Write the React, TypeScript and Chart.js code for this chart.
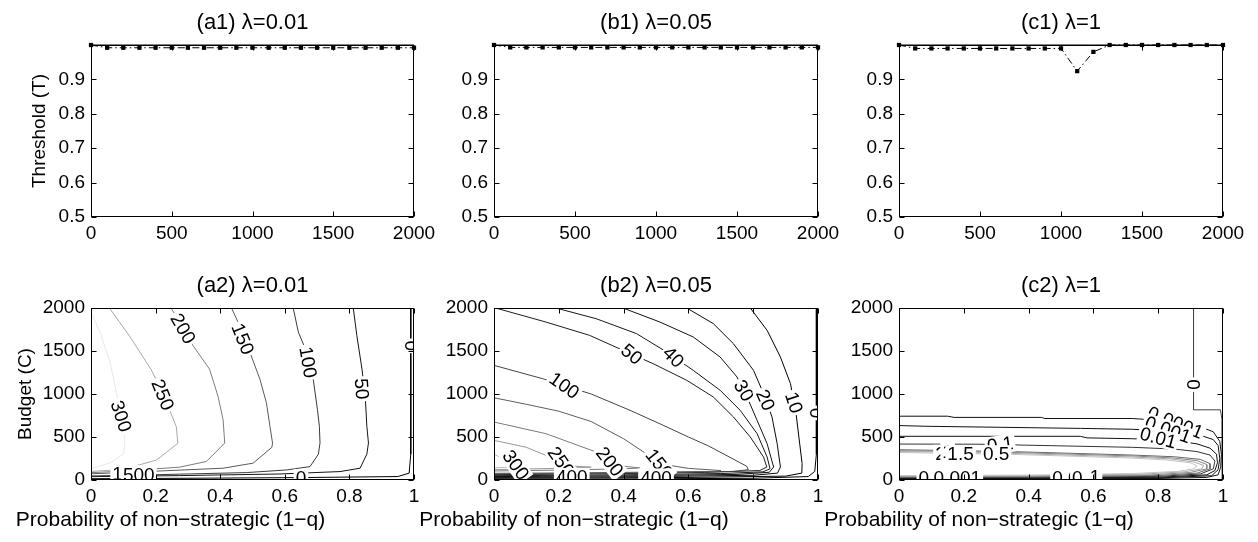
import React, { useEffect, useRef } from 'react';
import { Chart, registerables } from 'chart.js';

Chart.register(...registerables);

const FONT = '"Liberation Sans", Arial, Helvetica, sans-serif';

// ---------------- top row: threshold vs budget ----------------
const budgetX = [0, 100, 200, 300, 400, 500, 600, 700, 800, 900, 1000, 1100, 1200, 1300, 1400, 1500, 1600, 1700, 1800, 1900, 2000];
const thresholdMax = [1, 1, 1, 1, 1, 1, 1, 1, 1, 1, 1, 1, 1, 1, 1, 1, 1, 1, 1, 1, 1];
const thresholdA1 = [1, 0.992, 0.992, 0.992, 0.992, 0.992, 0.992, 0.992, 0.992, 0.992, 0.992, 0.992, 0.992, 0.992, 0.992, 0.992, 0.992, 0.992, 0.992, 0.992, 0.992];
const thresholdB1 = [1, 0.993, 0.993, 0.993, 0.993, 0.993, 0.993, 0.993, 0.993, 0.993, 0.993, 0.993, 0.993, 0.993, 0.993, 0.993, 0.993, 0.993, 0.993, 0.993, 0.993];
const thresholdC1 = [1, 0.99, 0.99, 0.99, 0.99, 0.99, 0.99, 0.99, 0.99, 0.99, 0.99, 0.924, 0.98, 1, 1, 1, 1, 1, 1, 1, 1];

// ---------------- bottom row: contour lines (x = 1-q, y = budget) ----------------
type Pt = [number, number];
type Lbl = [string, number, number, number]; // text, x, y, rotation (deg)

// (a2) lambda = 0.01
const a2Level0: Pt[] = [[0.99, 2000], [0.99, 1000], [0.99, 300], [0.985, 80], [0.95, 40], [0.65, 28], [0.3, 20], [0, 15]];
const a2Level50: Pt[] = [[0.812, 2000], [0.823, 1680], [0.839, 1289], [0.849, 976], [0.854, 625], [0.859, 430], [0.854, 300], [0.833, 137], [0.771, 98], [0.585, 70], [0.274, 51], [0, 39]];
const a2Level100: Pt[] = [[0.626, 2000], [0.642, 1719], [0.668, 1485], [0.688, 1172], [0.701, 820], [0.707, 625], [0.709, 430], [0.704, 300], [0.678, 156], [0.606, 117], [0.481, 86], [0.171, 59], [0, 47]];
const a2Level150: Pt[] = [[0.435, 2000], [0.46, 1797], [0.492, 1485], [0.523, 1172], [0.543, 899], [0.554, 625], [0.562, 430], [0.56, 380], [0.502, 196], [0.409, 137], [0.171, 98], [0, 72]];
const a2Level200: Pt[] = [[0.248, 2000], [0.274, 1836], [0.316, 1562], [0.367, 1289], [0.393, 976], [0.409, 703], [0.414, 430], [0.357, 215], [0.274, 149], [0.119, 109], [0, 85]];
const a2Level250: Pt[] = [[0.057, 2000], [0.119, 1676], [0.186, 1285], [0.217, 1051], [0.243, 817], [0.264, 621], [0.269, 426], [0.202, 231], [0.098, 122], [0, 100]];
const a2Level300: Pt[] = [[0, 1950], [0.03, 1700], [0.06, 1350], [0.08, 1000], [0.095, 700], [0.105, 450], [0.1, 300], [0.06, 200], [0, 130]];
const a2Labels: Lbl[] = [
  ['300', 0.093, 742, 72], ['250', 0.222, 990, 68], ['200', 0.285, 1760, 60], ['150', 0.47, 1640, 68],
  ['100', 0.672, 1370, 80], ['50', 0.838, 1060, 86], ['0', 0.99, 1560, 90],
  ['150', 0.115, 70, 0], ['500', 0.148, 66, 0], ['0', 0.65, 24, 0],
];

// (b2) lambda = 0.05
const b2Level0: Pt[] = [[0.995, 2000], [0.995, 300], [0.99, 100], [0.97, 40], [0.8, 20], [0.4, 12], [0, 8]];
const b2Level10: Pt[] = [[0.791, 2000], [0.843, 1740], [0.884, 1430], [0.915, 1120], [0.931, 810], [0.941, 500], [0.951, 190], [0.95, 80], [0.9, 45], [0.6, 30], [0.2, 22], [0, 20]];
const b2Level20: Pt[] = [[0.595, 2000], [0.677, 1818], [0.739, 1585], [0.801, 1275], [0.832, 1004], [0.858, 733], [0.874, 422], [0.884, 151], [0.875, 80], [0.8, 55], [0.5, 40], [0.2, 32], [0, 30]];
const b2Level30: Pt[] = [[0.398, 2000], [0.512, 1837], [0.615, 1663], [0.698, 1430], [0.75, 1198], [0.781, 965], [0.812, 694], [0.843, 422], [0.863, 151], [0.85, 90], [0.75, 65], [0.45, 50], [0.15, 42], [0, 40]];
const b2Level40: Pt[] = [[0.191, 2000], [0.315, 1876], [0.44, 1702], [0.533, 1488], [0.615, 1275], [0.698, 1043], [0.76, 810], [0.812, 539], [0.843, 267], [0.852, 130], [0.83, 95], [0.7, 75], [0.4, 60], [0.1, 52], [0, 50]];
const b2Level50: Pt[] = [[0.005, 2000], [0.16, 1837], [0.295, 1682], [0.398, 1508], [0.491, 1353], [0.595, 1159], [0.677, 965], [0.739, 733], [0.791, 500], [0.832, 267], [0.842, 150], [0.82, 110], [0.65, 88], [0.35, 72], [0, 62]];
const b2Level100: Pt[] = [[0, 1333], [0.15, 1178], [0.3, 1000], [0.42, 810], [0.52, 640], [0.6, 500], [0.66, 400], [0.71, 300], [0.75, 220], [0.78, 160], [0.785, 120], [0.74, 100], [0.5, 85], [0.2, 75], [0, 72]];
const b2Level150: Pt[] = [[0, 956], [0.1, 880], [0.2, 800], [0.3, 680], [0.4, 480], [0.46, 330], [0.51, 190], [0.6, 135], [0.7, 110], [0.68, 100], [0.5, 92], [0.2, 82], [0, 78]];
const b2Level200: Pt[] = [[0, 674], [0.16, 539], [0.315, 326], [0.357, 214], [0.4, 160], [0.45, 140], [0.4, 130], [0.2, 115], [0, 105]];
const b2Level250: Pt[] = [[0, 461], [0.1, 380], [0.207, 214], [0.25, 160], [0.3, 150], [0.25, 140], [0, 120]];
const b2Level300: Pt[] = [[0, 300], [0.067, 176], [0.1, 160], [0.05, 150], [0, 140]];
const b2Labels: Lbl[] = [
  ['50', 0.425, 1463, 40], ['40', 0.554, 1430, 45], ['30', 0.771, 1040, 60], ['20', 0.838, 930, 66],
  ['10', 0.926, 900, 72], ['0', 0.995, 780, 90], ['100', 0.217, 1098, 35], ['150', 0.51, 190, 52],
  ['200', 0.357, 214, 52], ['250', 0.207, 214, 55], ['300', 0.067, 176, 55], ['400', 0.24, 35, 0], ['400', 0.5, 30, 0],
];

// (c2) lambda = 1
const c2Level0: Pt[] = [[0.909, 2000], [0.909, 816], [0.992, 816], [0.997, 700], [0.998, 300], [0.998, 0]];
const c2Level00001: Pt[] = [[0, 742], [0.15, 742], [0.17, 728], [0.44, 728], [0.45, 715], [0.72, 715], [0.78, 700], [0.87, 660], [0.93, 620], [0.97, 560], [0.99, 450], [0.995, 300], [0.993, 150], [0.985, 60], [0.95, 30], [0.8, 18], [0.5, 14], [0.2, 12], [0, 11]];
const c2Level0001: Pt[] = [[0, 633], [0.08, 625], [0.56, 600], [0.72, 590], [0.85, 560], [0.93, 520], [0.97, 470], [0.985, 400], [0.99, 250], [0.985, 120], [0.965, 50], [0.8, 24], [0.4, 18], [0, 16]];
const c2Level001: Pt[] = [[0, 508], [0.56, 508], [0.58, 490], [0.72, 480], [0.85, 460], [0.92, 420], [0.96, 370], [0.98, 300], [0.983, 200], [0.975, 110], [0.95, 60], [0.8, 32], [0.4, 24], [0, 21]];
const c2Level01: Pt[] = [[0, 418], [0.25, 416], [0.72, 380], [0.85, 360], [0.92, 330], [0.96, 290], [0.975, 220], [0.97, 130], [0.93, 70], [0.8, 42], [0.4, 30], [0, 27]];
const c2Level05: Pt[] = [[0, 352], [0.12, 345], [0.35, 330], [0.72, 290], [0.85, 270], [0.93, 240], [0.96, 190], [0.96, 130], [0.92, 80], [0.8, 52], [0.4, 37], [0, 33]];
const c2Level1: Pt[] = [[0, 340], [0.12, 335], [0.35, 320], [0.72, 280], [0.85, 255], [0.92, 225], [0.95, 180], [0.95, 130], [0.9, 88], [0.78, 60], [0.4, 43], [0, 39]];
const c2Level15: Pt[] = [[0, 330], [0.12, 325], [0.35, 308], [0.72, 268], [0.84, 245], [0.91, 210], [0.94, 170], [0.935, 130], [0.88, 95], [0.75, 68], [0.4, 50], [0, 45]];
const c2Level2: Pt[] = [[0, 320], [0.12, 312], [0.35, 298], [0.72, 255], [0.83, 232], [0.9, 200], [0.92, 165], [0.91, 130], [0.86, 100], [0.72, 75], [0.4, 57], [0, 51]];
const c2Labels: Lbl[] = [
  ['0', 0.909, 1109, 90], ['0.0001', 0.853, 668, 22], ['0.001', 0.83, 585, 20], ['0.01', 0.8, 490, 15],
  ['0.1', 0.312, 412, -8], ['2', 0.128, 305, 0], ['1', 0.15, 330, 0], ['1.5', 0.19, 300, 0], ['0.5', 0.3, 300, 0],
  ['0.0001', 0.15, 22, 0], ['0.001', 0.18, 24, 0], ['0.01', 0.53, 26, 0], ['0.1', 0.575, 30, 0], ['1', 0.605, 36, 0],
];

// ---------------- titles ----------------
const titles = ['(a1) λ=0.01', '(b1) λ=0.05', '(c1) λ=1', '(a2) λ=0.01', '(b2) λ=0.05', '(c2) λ=1'];
const xLabelText = 'Probability of non\u2212strategic (1\u2212q)';
const yLabelTop = 'Threshold (T)';
const yLabelBottom = 'Budget (C)';

// ---------------- helpers ----------------
const toXY = (pts: Pt[]) => pts.map(([x, y]) => ({ x, y }));

function contourSet(pts: Pt[], color: string) {
  return { data: toXY(pts), showLine: true, borderColor: color, borderWidth: 1, pointRadius: 0, fill: false, tension: 0 };
}

function topSets(series: number[]) {
  return [
    { data: budgetX.map((x, i) => ({ x, y: thresholdMax[i] })), showLine: true, borderColor: '#000', borderWidth: 1, pointRadius: 0, clip: false },
    {
      data: budgetX.map((x, i) => ({ x, y: series[i] })), showLine: true, borderColor: '#000', borderWidth: 1,
      borderDash: [7, 3, 1.5, 3], pointStyle: 'rect', pointRadius: 3, pointBackgroundColor: '#000',
      pointBorderColor: '#000', pointBorderWidth: 0, clip: false,
    },
  ];
}

const framePlugin = {
  id: 'frame',
  afterDatasetsDraw(chart: any, _a: any, opts: any) {
    const { ctx, chartArea: ca } = chart;
    const xs = chart.scales.x;
    const ys = chart.scales.y;
    if (opts.labels) {
      ctx.save();
      ctx.beginPath();
      ctx.rect(ca.left, ca.top, ca.right - ca.left, ca.bottom - ca.top);
      ctx.clip();
      ctx.font = `19px ${FONT}`;
      ctx.textAlign = 'center';
      ctx.textBaseline = 'middle';
      for (const [t, x, y, r] of opts.labels as Lbl[]) {
        const px = xs.getPixelForValue(x);
        const py = ys.getPixelForValue(y);
        ctx.save();
        ctx.translate(px, py);
        ctx.rotate((r * Math.PI) / 180);
        const w = ctx.measureText(t).width;
        ctx.fillStyle = '#fff';
        ctx.fillRect(-w / 2 - 2, -9, w + 4, 18);
        ctx.fillStyle = '#000';
        ctx.fillText(t, 0, 1);
        ctx.restore();
      }
      ctx.restore();
    }
  },
  afterDraw(chart: any, _a: any, opts: any) {
    const { ctx, chartArea: ca } = chart;
    const xs = chart.scales.x;
    const ys = chart.scales.y;
    ctx.save();
    ctx.strokeStyle = '#000';
    ctx.lineWidth = 1;
    const L = Math.round(ca.left) + 0.5, R = Math.round(ca.right) - 0.5;
    const T = Math.round(ca.top) + 0.5, B = Math.round(ca.bottom) - 0.5;
    ctx.strokeRect(L, T, R - L, B - T);
    const tl = 5;
    ctx.beginPath();
    for (const tk of xs.ticks) {
      const px = Math.round(xs.getPixelForValue(tk.value)) + 0.5;
      ctx.moveTo(px, B); ctx.lineTo(px, B - tl);
      ctx.moveTo(px, T); ctx.lineTo(px, T + tl);
    }
    for (const tk of ys.ticks) {
      const py = Math.round(ys.getPixelForValue(tk.value)) + 0.5;
      ctx.moveTo(L, py); ctx.lineTo(L + tl, py);
      ctx.moveTo(R, py); ctx.lineTo(R - tl, py);
    }
    ctx.stroke();
    const cx = (ca.left + ca.right) / 2;
    ctx.fillStyle = '#000';
    ctx.textAlign = 'center';
    ctx.textBaseline = 'middle';
    ctx.font = `22px ${FONT}`;
    ctx.fillText(opts.title, cx, ca.top - 22);
    if (opts.xlabel) {
      ctx.font = `21px ${FONT}`;
      ctx.fillText(opts.xlabel, cx - 82, ca.bottom + 40);
    }
    if (opts.ylabel) {
      ctx.font = `19px ${FONT}`;
      ctx.save();
      ctx.translate(opts.ylabelX, (ca.top + ca.bottom) / 2);
      ctx.rotate(-Math.PI / 2);
      ctx.fillText(opts.ylabel, 0, 0);
      ctx.restore();
    }
    ctx.restore();
  },
};

type PanelDef = {
  id: string; x0: number; y0: number; w: number; h: number;
  L: number; T: number; R: number; B: number;
  xMax: number; xStep: number; yMin: number; yMax: number; yStep: number;
  datasets: any[]; labels?: Lbl[]; title: string; xlabel?: string; ylabel?: string; ylabelX?: number;
  xFmt: (v: number) => string; yFmt: (v: number) => string;
};

const fmtInt = (v: number) => String(Math.round(v));
const fmtFrac = (v: number) => (Math.abs(v) < 1e-9 ? '0' : Math.abs(v - 1) < 1e-9 ? '1' : v.toFixed(1));
const fmtThr = (v: number) => (v > 0.95 ? '' : v.toFixed(1));

const colLeft = [91, 494, 899];
const colRight = [414, 818, 1223];
const topT = 45, topB = 217, botT = 308, botB = 480;

function makeTop(i: number, series: number[]): PanelDef {
  const L = colLeft[i], R = colRight[i];
  return {
    id: 't' + i, x0: L - 91, y0: 0, w: R - L + 91 + 35, h: 271, L, T: topT, R, B: topB,
    xMax: 2000, xStep: 500, yMin: 0.5, yMax: 1, yStep: 0.1,
    datasets: topSets(series), title: titles[i],
    ylabel: i === 0 ? yLabelTop : undefined, ylabelX: 40 - (L - 91),
    xFmt: fmtInt, yFmt: fmtThr,
  };
}

function makeBottom(i: number, sets: any[], labels: Lbl[]): PanelDef {
  const L = colLeft[i], R = colRight[i];
  return {
    id: 'b' + i, x0: L - 91, y0: 271, w: R - L + 91 + 35, h: 271, L, T: botT, R, B: botB,
    xMax: 1, xStep: 0.2, yMin: 0, yMax: 2000, yStep: 500,
    datasets: sets, labels, title: titles[3 + i], xlabel: xLabelText,
    ylabel: i === 0 ? yLabelBottom : undefined, ylabelX: 26 - (L - 91),
    xFmt: fmtFrac, yFmt: fmtInt,
  };
}

const panels: PanelDef[] = [
  makeTop(0, thresholdA1),
  makeTop(1, thresholdB1),
  makeTop(2, thresholdC1),
  makeBottom(0, [
    contourSet(a2Level300, '#e8e8e8'), contourSet(a2Level250, '#a8a8a8'), contourSet(a2Level200, '#7c7c7c'),
    contourSet(a2Level150, '#5a5a5a'), contourSet(a2Level100, '#3a3a3a'), contourSet(a2Level50, '#151515'),
    contourSet(a2Level0, '#000'),
  ], a2Labels),
  makeBottom(1, [
    contourSet(b2Level300, '#bbbbbb'), contourSet(b2Level250, '#999999'), contourSet(b2Level200, '#7a7a7a'),
    contourSet(b2Level150, '#5e5e5e'), contourSet(b2Level100, '#444444'), contourSet(b2Level50, '#1c1c1c'),
    contourSet(b2Level40, '#161616'), contourSet(b2Level30, '#111'), contourSet(b2Level20, '#0a0a0a'),
    contourSet(b2Level10, '#000'), contourSet(b2Level0, '#000'),
  ], b2Labels),
  makeBottom(2, [
    contourSet(c2Level2, '#c4c4c4'), contourSet(c2Level15, '#a8a8a8'), contourSet(c2Level1, '#888888'),
    contourSet(c2Level05, '#666666'), contourSet(c2Level01, '#333'), contourSet(c2Level001, '#111'),
    contourSet(c2Level0001, '#111'), contourSet(c2Level00001, '#111'), contourSet(c2Level0, '#444'),
  ], c2Labels),
];

function Panel({ p }: { p: PanelDef }) {
  const ref = useRef<HTMLCanvasElement>(null);
  useEffect(() => {
    const tickFont = { family: FONT, size: 19 };
    const chart = new Chart(ref.current as HTMLCanvasElement, {
      type: 'scatter',
      data: { datasets: p.datasets },
      options: {
        animation: false,
        responsive: false,
        devicePixelRatio: 1,
        layout: { padding: { left: 0, top: p.T - p.y0, right: p.x0 + p.w - p.R, bottom: 0 } },
        plugins: {
          legend: { display: false },
          tooltip: { enabled: false },
          frame: { labels: p.labels, title: p.title, xlabel: p.xlabel, ylabel: p.ylabel, ylabelX: p.ylabelX },
        } as any,
        scales: {
          x: {
            type: 'linear', min: 0, max: p.xMax,
            ticks: { stepSize: p.xStep, autoSkip: false, maxRotation: 0, padding: 5, color: '#000', font: tickFont, callback: (v: any) => p.xFmt(Number(v)) },
            grid: { display: false, drawTicks: false },
            border: { display: false },
            afterFit: (s: any) => { s.height = p.y0 + p.h - p.B; s.paddingLeft = 0; s.paddingRight = 0; },
          },
          y: {
            type: 'linear', min: p.yMin, max: p.yMax,
            ticks: { stepSize: p.yStep, autoSkip: false, padding: 6, color: '#000', font: tickFont, callback: (v: any) => p.yFmt(Number(v)) },
            grid: { display: false, drawTicks: false },
            border: { display: false },
            afterFit: (s: any) => { s.width = p.L - p.x0; s.paddingTop = 0; s.paddingBottom = 0; },
          },
        } as any,
      },
      plugins: [framePlugin],
    } as any);
    return () => chart.destroy();
  }, []);
  return (
    <canvas
      ref={ref}
      width={p.w}
      height={p.h}
      style={{ position: 'absolute', left: p.x0, top: p.y0, width: p.w, height: p.h }}
    />
  );
}

export default function App() {
  return (
    <div style={{ position: 'absolute', left: 0, top: 0, width: 1258, height: 542, background: '#fff', overflow: 'hidden' }}>
      {panels.map((p) => (
        <Panel key={p.id} p={p} />
      ))}
    </div>
  );
}
